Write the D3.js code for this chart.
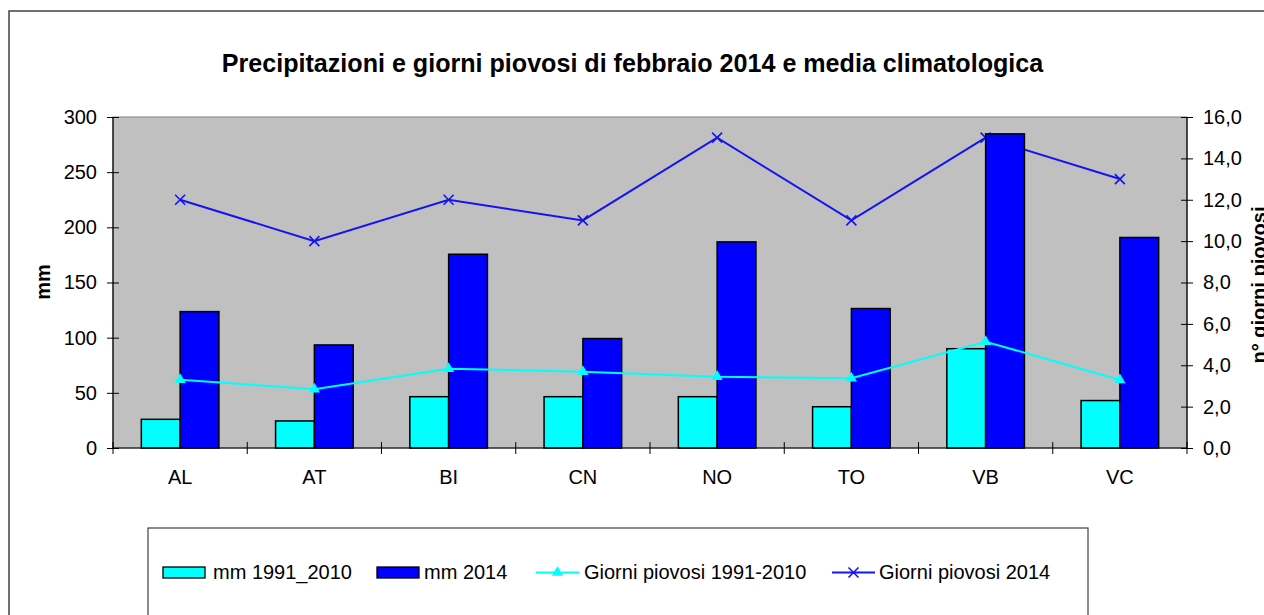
<!DOCTYPE html>
<html>
<head>
<meta charset="utf-8">
<script src="https://cdn.jsdelivr.net/npm/d3@7"></script>
<style>
  html, body { margin: 0; padding: 0; background: #fff; }
  svg { display: block; font-family: "Liberation Sans", Arial, sans-serif; }
</style>
</head>
<body>
<svg id="chart" width="1264" height="615"></svg>
<script>
const categories = ["AL", "AT", "BI", "CN", "NO", "TO", "VB", "VC"];
const mmClim = [26, 24.5, 46.5, 46.5, 46.5, 37.4, 90, 43];
const mm2014 = [123.6, 93.4, 175.6, 99.2, 186.8, 126.4, 284.7, 190.8];
const giorniClim = [3.3, 2.84, 3.83, 3.69, 3.45, 3.37, 5.14, 3.29];
const giorni2014 = [12, 10, 12, 11, 15, 11, 15, 13];
const leftTicks = [0, 50, 100, 150, 200, 250, 300];
const rightTicks = [0, 2, 4, 6, 8, 10, 12, 14, 16];
const seriesNames = ["mm 1991_2010", "mm 2014", "Giorni piovosi 1991-2010", "Giorni piovosi 2014"];
const title = "Precipitazioni e giorni piovosi di febbraio 2014 e media climatologica";

const svg = d3.select("#chart");
const L = 113, R = 1187, T = 117, B = 448;
const cClim = "#00FFFF", c2014 = "#0000FF", cLine2014 = "#1414F0";

// outer chart border
svg.append("rect").attr("x", 9).attr("y", 11).attr("width", 1300).attr("height", 700)
  .attr("fill", "#fff").attr("stroke", "#404040").attr("stroke-width", 1.5);

svg.append("text").attr("x", 632.5).attr("y", 72).attr("text-anchor", "middle")
  .attr("font-size", 25.1).attr("font-weight", "bold").text(title);

const x0 = d3.scaleBand().domain(categories).range([L, R]).padding(0);
const bw = x0.bandwidth();
const x1 = d3.scaleBand().domain(["clim", "y2014"]).range([0, bw]).paddingInner(0).paddingOuter(0.73);
const yL = d3.scaleLinear().domain([0, 300]).range([B, T]);
const yR = d3.scaleLinear().domain([0, 16]).range([B, T]);

// plot area
svg.append("rect").attr("x", L).attr("y", T).attr("width", R - L).attr("height", B - T)
  .attr("fill", "#C0C0C0").attr("stroke", "#808080").attr("stroke-width", 1);

const cx = c => x0(c) + bw / 2;

// 2014 rainy days line (behind bars)
const line2014 = d3.line().x((d, i) => cx(categories[i])).y(d => yR(d));
svg.append("path").datum(giorni2014).attr("d", line2014)
  .attr("fill", "none").attr("stroke", cLine2014).attr("stroke-width", 2);
const xs = 5;
svg.append("g").selectAll("path").data(giorni2014).join("path")
  .attr("d", (d, i) => {
    const px = cx(categories[i]), py = yR(d);
    return `M${px - xs},${py - xs}L${px + xs},${py + xs}M${px - xs},${py + xs}L${px + xs},${py - xs}`;
  })
  .attr("stroke", cLine2014).attr("stroke-width", 1.6).attr("fill", "none");

// bars
const bars = svg.append("g");
bars.selectAll("rect.clim").data(mmClim).join("rect").attr("class", "clim")
  .attr("x", (d, i) => x0(categories[i]) + x1("clim"))
  .attr("y", d => yL(d)).attr("width", x1.bandwidth()).attr("height", d => B - yL(d))
  .attr("fill", cClim).attr("stroke", "#000").attr("stroke-width", 1.5);
bars.selectAll("rect.y2014").data(mm2014).join("rect").attr("class", "y2014")
  .attr("x", (d, i) => x0(categories[i]) + x1("y2014"))
  .attr("y", d => yL(d)).attr("width", x1.bandwidth()).attr("height", d => B - yL(d))
  .attr("fill", c2014).attr("stroke", "#000").attr("stroke-width", 1.5);

// climatological rainy days line
const lineClim = d3.line().x((d, i) => cx(categories[i])).y(d => yR(d));
svg.append("path").datum(giorniClim).attr("d", lineClim)
  .attr("fill", "none").attr("stroke", cClim).attr("stroke-width", 2);
const tri = d3.symbol().type(d3.symbolTriangle).size(55);
svg.append("g").selectAll("path").data(giorniClim).join("path")
  .attr("transform", (d, i) => `translate(${cx(categories[i])},${yR(d)})`)
  .attr("d", tri).attr("fill", cClim);

// axes
const axL = svg.append("g").attr("transform", `translate(${L},0)`)
  .call(d3.axisLeft(yL).tickValues(leftTicks).tickSize(6).tickPadding(10));
const axR = svg.append("g").attr("transform", `translate(${R},0)`)
  .call(d3.axisRight(yR).tickValues(rightTicks).tickSize(6).tickPadding(10)
    .tickFormat(d => d.toFixed(1).replace(".", ",")));
[axL, axR].forEach(ax => {
  ax.select(".domain").remove();
  ax.selectAll(".tick line").attr("x1", -6).attr("x2", 6).attr("stroke", "#000");
  ax.selectAll(".tick text").attr("font-size", 20).attr("font-family", "Liberation Sans, Arial, sans-serif").attr("fill", "#000");
});
svg.append("line").attr("x1", L).attr("x2", L).attr("y1", T).attr("y2", B).attr("stroke", "#000").attr("stroke-width", 1.2);
svg.append("line").attr("x1", R).attr("x2", R).attr("y1", T).attr("y2", B).attr("stroke", "#000").attr("stroke-width", 1.2);
svg.append("line").attr("x1", L).attr("x2", R).attr("y1", B).attr("y2", B).attr("stroke", "#000").attr("stroke-width", 1.2);

// category ticks at band boundaries
const bounds = categories.map(c => x0(c)).concat([x0(categories[categories.length - 1]) + bw]);
svg.append("g").selectAll("line").data(bounds).join("line")
  .attr("x1", d => d).attr("x2", d => d).attr("y1", B - 6).attr("y2", B + 6)
  .attr("stroke", "#000").attr("stroke-width", 1);
svg.append("g").selectAll("text").data(categories).join("text")
  .attr("x", d => cx(d)).attr("y", 484).attr("text-anchor", "middle")
  .attr("font-size", 20).text(d => d);

// axis titles
svg.append("text").attr("transform", "translate(50,282) rotate(-90)")
  .attr("text-anchor", "middle").attr("font-size", 20).attr("font-weight", "bold").text("mm");
svg.append("text").attr("transform", "translate(1266,285) rotate(-90)")
  .attr("text-anchor", "middle").attr("font-size", 20).attr("font-weight", "bold").text("n° giorni piovosi");

// legend
svg.append("rect").attr("x", 148).attr("y", 528).attr("width", 940).attr("height", 120)
  .attr("fill", "#fff").attr("stroke", "#404040").attr("stroke-width", 1.2);
const ly = 572.5, lty = 579;
const lg = svg.append("g");
lg.append("rect").attr("x", 163).attr("y", 567).attr("width", 42).attr("height", 11)
  .attr("fill", cClim).attr("stroke", "#000").attr("stroke-width", 1.3);
lg.append("text").attr("x", 213).attr("y", lty).attr("font-size", 20).text(seriesNames[0]);
lg.append("rect").attr("x", 377).attr("y", 567).attr("width", 42).attr("height", 11)
  .attr("fill", c2014).attr("stroke", "#000").attr("stroke-width", 1.3);
lg.append("text").attr("x", 424).attr("y", lty).attr("font-size", 20).text(seriesNames[1]);
lg.append("line").attr("x1", 536).attr("x2", 579).attr("y1", ly).attr("y2", ly)
  .attr("stroke", cClim).attr("stroke-width", 2);
lg.append("path").attr("transform", `translate(557.5,${ly})`).attr("d", tri).attr("fill", cClim);
lg.append("text").attr("x", 584).attr("y", lty).attr("font-size", 20).text(seriesNames[2]);
lg.append("line").attr("x1", 832).attr("x2", 875).attr("y1", ly).attr("y2", ly)
  .attr("stroke", cLine2014).attr("stroke-width", 2);
lg.append("path").attr("d", `M${853.5 - 5},${ly - 5}L${853.5 + 5},${ly + 5}M${853.5 - 5},${ly + 5}L${853.5 + 5},${ly - 5}`)
  .attr("stroke", cLine2014).attr("stroke-width", 1.6);
lg.append("text").attr("x", 879).attr("y", lty).attr("font-size", 20).text(seriesNames[3]);
</script>
</body>
</html>
